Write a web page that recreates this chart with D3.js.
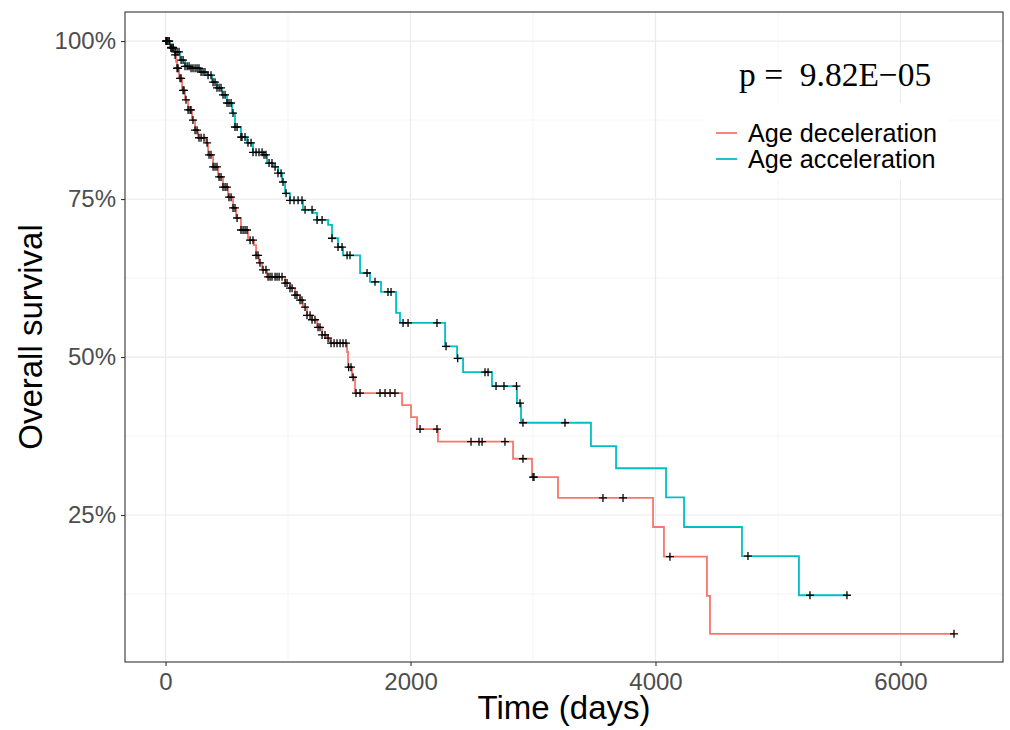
<!DOCTYPE html>
<html>
<head>
<meta charset="utf-8">
<script src="https://cdn.jsdelivr.net/npm/d3@7"></script>
<style>
    body { margin: 0; background: #fff; }
    svg { display: block; font-family: "Liberation Sans", Arial, sans-serif; }
</style>
</head>
<body>
<div id="chart"></div>
<script>
// Group names
const groups = ['Age deceleration', 'Age acceleration'];

// Step points [days, survival %] for age deceleration
const decelSteps = [
    [0, 100], [37, 99.0], [78, 97.8], [86, 96.7], [94, 95.7], [110, 94.1], [135, 92.2], [159, 90.7],
    [184, 89.1], [216, 87.5], [241, 85.9], [265, 84.7], [331, 83.9], [347, 82.0], [388, 80.1],
    [429, 78.5], [469, 76.9], [510, 75.3], [551, 73.6], [576, 72.0], [616, 70.1], [673, 68.5],
    [722, 67.7], [739, 66.1], [763, 64.9], [788, 63.8], [829, 62.7], [976, 61.7], [1016, 60.9],
    [1057, 59.8], [1098, 59.0], [1122, 57.9], [1155, 56.6], [1196, 55.9], [1237, 54.7], [1278, 53.5],
    [1318, 53.0], [1343, 52.2], [1482, 50.8], [1490, 48.4], [1522, 46.8], [1547, 44.3], [1931, 42.4],
    [2004, 40.5], [2053, 38.6], [2224, 36.6], [2837, 33.9], [2992, 31.0], [3204, 27.7], [3980, 23.1],
    [4069, 18.4], [4420, 12.2], [4445, 6.2]
];
const decelEnd = 6437;

// Censored times (days) for age deceleration
const decelCensor = [
    4, 12, 29, 45, 61, 78, 94, 102, 118, 127, 143, 151, 167, 184, 200, 208, 224, 241, 257, 273,
    290, 314, 339, 355, 371, 388, 404, 420, 437, 453, 469, 486, 502, 518, 535, 551, 567, 584, 616,
    633, 649, 665, 690, 714, 739, 755, 771, 796, 820, 837, 853, 869, 894, 910, 927, 951, 976, 992,
    1016, 1033, 1057, 1073, 1098, 1114, 1139, 1155, 1180, 1196, 1220, 1245, 1261, 1278, 1302, 1327,
    1351, 1376, 1400, 1425, 1449, 1473, 1495, 1514, 1531, 1555, 1588, 1751, 1792, 1833, 1873, 2078,
    2216, 2494, 2559, 2584, 2771, 2918, 3000, 3008, 3571, 3735, 4118, 6437
];

// Step points [days, survival %] for age acceleration
const accelSteps = [
    [0, 100], [37, 98.9], [78, 98.3], [118, 97.0], [159, 96.0], [200, 95.7], [282, 95.1], [339, 94.6],
    [380, 93.5], [420, 92.6], [461, 91.5], [502, 90.2], [543, 88.6], [567, 86.4], [616, 84.8],
    [665, 83.9], [714, 82.4], [796, 82.0], [829, 80.7], [878, 80.1], [918, 79.1], [951, 77.7],
    [976, 75.9], [1016, 74.8], [1122, 73.3], [1204, 72.8], [1237, 71.7], [1327, 70.9], [1359, 68.8],
    [1408, 67.4], [1449, 66.1], [1588, 63.3], [1669, 61.9], [1759, 60.3], [1882, 57.0], [1914, 55.4],
    [2282, 51.7], [2380, 49.8], [2429, 47.6], [2665, 45.4], [2869, 42.7], [2902, 39.6], [3473, 35.9],
    [3678, 32.4], [4086, 27.8], [4233, 23.1], [4706, 18.5], [5171, 12.3]
];
const accelEnd = 5563;

// Censored times (days) for age acceleration
const accelCensor = [
    4, 12, 29, 45, 61, 78, 94, 110, 127, 143, 159, 176, 192, 208, 224, 241, 257, 273, 290, 306,
    322, 347, 371, 388, 404, 420, 437, 453, 469, 486, 502, 518, 535, 551, 567, 584, 616, 624, 649,
    673, 698, 714, 739, 763, 788, 804, 820, 845, 869, 894, 918, 943, 959, 984, 1016, 1049, 1082,
    1114, 1139, 1196, 1237, 1278, 1359, 1408, 1441, 1482, 1506, 1645, 1710, 1816, 1841, 1939, 1980,
    2216, 2290, 2385, 2608, 2633, 2698, 2763, 2865, 2894, 2918, 3261, 4755, 5261, 5563
];

// Tick labels
const xTicks = [0, 2000, 4000, 6000];
const yTicks = [25, 50, 75, 100];
const xMinor = [1000, 3000, 5000];
const yMinor = [12.5, 37.5, 62.5, 87.5];

const pText = 'p =  9.82E\u221205';

const colors = ['#F8766D', '#00BFC4'];

function drawChart(selector) {
    const width = 1010;
    const height = 730;
    const panel = { left: 125, right: 1003, top: 12, bottom: 662 };

    const svg = d3.select(selector)
        .append('svg')
        .attr('width', width)
        .attr('height', height);

    // Scales
    const x = d3.scaleLinear()
        .domain([-331, 6837])
        .range([panel.left, panel.right]);

    const y = d3.scaleLinear()
        .domain([1.74, 104.6])
        .range([panel.bottom, panel.top]);

    // Grid
    const grid = svg.append('g').attr('class', 'grid');

    grid.selectAll('.minor-x')
        .data(xMinor)
        .join('line')
        .attr('x1', d => x(d)).attr('x2', d => x(d))
        .attr('y1', panel.top).attr('y2', panel.bottom)
        .attr('stroke', '#F2F2F2').attr('stroke-width', 0.8);

    grid.selectAll('.minor-y')
        .data(yMinor)
        .join('line')
        .attr('x1', panel.left).attr('x2', panel.right)
        .attr('y1', d => y(d)).attr('y2', d => y(d))
        .attr('stroke', '#F2F2F2').attr('stroke-width', 0.8);

    grid.selectAll('.major-x')
        .data(xTicks)
        .join('line')
        .attr('x1', d => x(d)).attr('x2', d => x(d))
        .attr('y1', panel.top).attr('y2', panel.bottom)
        .attr('stroke', '#EBEBEB').attr('stroke-width', 1.2);

    grid.selectAll('.major-y')
        .data(yTicks)
        .join('line')
        .attr('x1', panel.left).attr('x2', panel.right)
        .attr('y1', d => y(d)).attr('y2', d => y(d))
        .attr('stroke', '#EBEBEB').attr('stroke-width', 1.2);

    // Survival curves
    const line = d3.line()
        .x(d => x(d[0]))
        .y(d => y(d[1]))
        .curve(d3.curveStepAfter);

    const series = [
        { steps: decelSteps, end: decelEnd, censor: decelCensor, color: colors[0] },
        { steps: accelSteps, end: accelEnd, censor: accelCensor, color: colors[1] }
    ];

    // Survival value at time t
    const survivalAt = (steps, t) => {
        let s = steps[0][1];
        steps.forEach(p => { if (p[0] <= t) s = p[1]; });
        return s;
    };

    series.forEach(sr => {
        const pts = sr.steps.concat([[sr.end, sr.steps[sr.steps.length - 1][1]]]);
        svg.append('path')
            .datum(pts)
            .attr('fill', 'none')
            .attr('stroke', sr.color)
            .attr('stroke-width', 1.8)
            .attr('d', line);
    });

    // Censor marks
    series.forEach(sr => {
        svg.append('g')
            .selectAll('path')
            .data(sr.censor)
            .join('path')
            .attr('transform', d => `translate(${x(d)},${y(survivalAt(sr.steps, d))})`)
            .attr('d', 'M-4,0H4M0,-4V4')
            .attr('stroke', '#000')
            .attr('stroke-width', 1.3)
            .attr('fill', 'none');
    });

    // Panel border
    svg.append('rect')
        .attr('x', panel.left).attr('y', panel.top)
        .attr('width', panel.right - panel.left)
        .attr('height', panel.bottom - panel.top)
        .attr('fill', 'none')
        .attr('stroke', '#333')
        .attr('stroke-width', 1.1);

    // X axis
    const xAxis = svg.append('g')
        .attr('transform', `translate(0,${panel.bottom})`)
        .call(d3.axisBottom(x).tickValues(xTicks).tickSize(4).tickPadding(7).tickFormat(d3.format('d')));

    // Y axis
    const yAxis = svg.append('g')
        .attr('transform', `translate(${panel.left},0)`)
        .call(d3.axisLeft(y).tickValues(yTicks).tickSize(4).tickPadding(5).tickFormat(d => d + '%'));

    [xAxis, yAxis].forEach(a => {
        a.select('.domain').remove();
        a.selectAll('.tick line').attr('stroke', '#333').attr('stroke-width', 1.1);
        a.selectAll('.tick text')
            .attr('fill', '#4D4D4D')
            .attr('font-size', 24)
            .attr('font-family', '"Liberation Sans", Arial, sans-serif');
    });

    // Axis titles
    svg.append('text')
        .attr('x', (panel.left + panel.right) / 2)
        .attr('y', 719)
        .attr('text-anchor', 'middle')
        .attr('font-size', 33)
        .attr('fill', '#000')
        .text('Time (days)');

    svg.append('text')
        .attr('transform', `translate(42,${(panel.top + panel.bottom) / 2}) rotate(-90)`)
        .attr('text-anchor', 'middle')
        .attr('font-size', 33)
        .attr('fill', '#000')
        .text('Overall survival');

    // Legend
    const legend = svg.append('g').attr('class', 'legend');

    legend.append('rect')
        .attr('x', 705).attr('y', 103)
        .attr('width', 244).attr('height', 77)
        .attr('fill', '#fff');

    groups.forEach((g, i) => {
        legend.append('line')
            .attr('x1', 716).attr('x2', 737)
            .attr('y1', 133 + i * 26).attr('y2', 133 + i * 26)
            .attr('stroke', colors[i])
            .attr('stroke-width', 1.8);
        legend.append('text')
            .attr('x', 748)
            .attr('y', 142 + i * 26)
            .attr('font-size', 25.2)
            .attr('fill', '#000')
            .text(g);
    });

    // p-value
    svg.append('text')
        .attr('x', 739)
        .attr('y', 86)
        .attr('font-family', '"Liberation Serif", "Times New Roman", serif')
        .attr('font-size', 33.5)
        .attr('fill', '#000')
        .style('white-space', 'pre')
        .attr('xml:space', 'preserve')
        .text(pText);
}

drawChart('#chart');
</script>
</body>
</html>
